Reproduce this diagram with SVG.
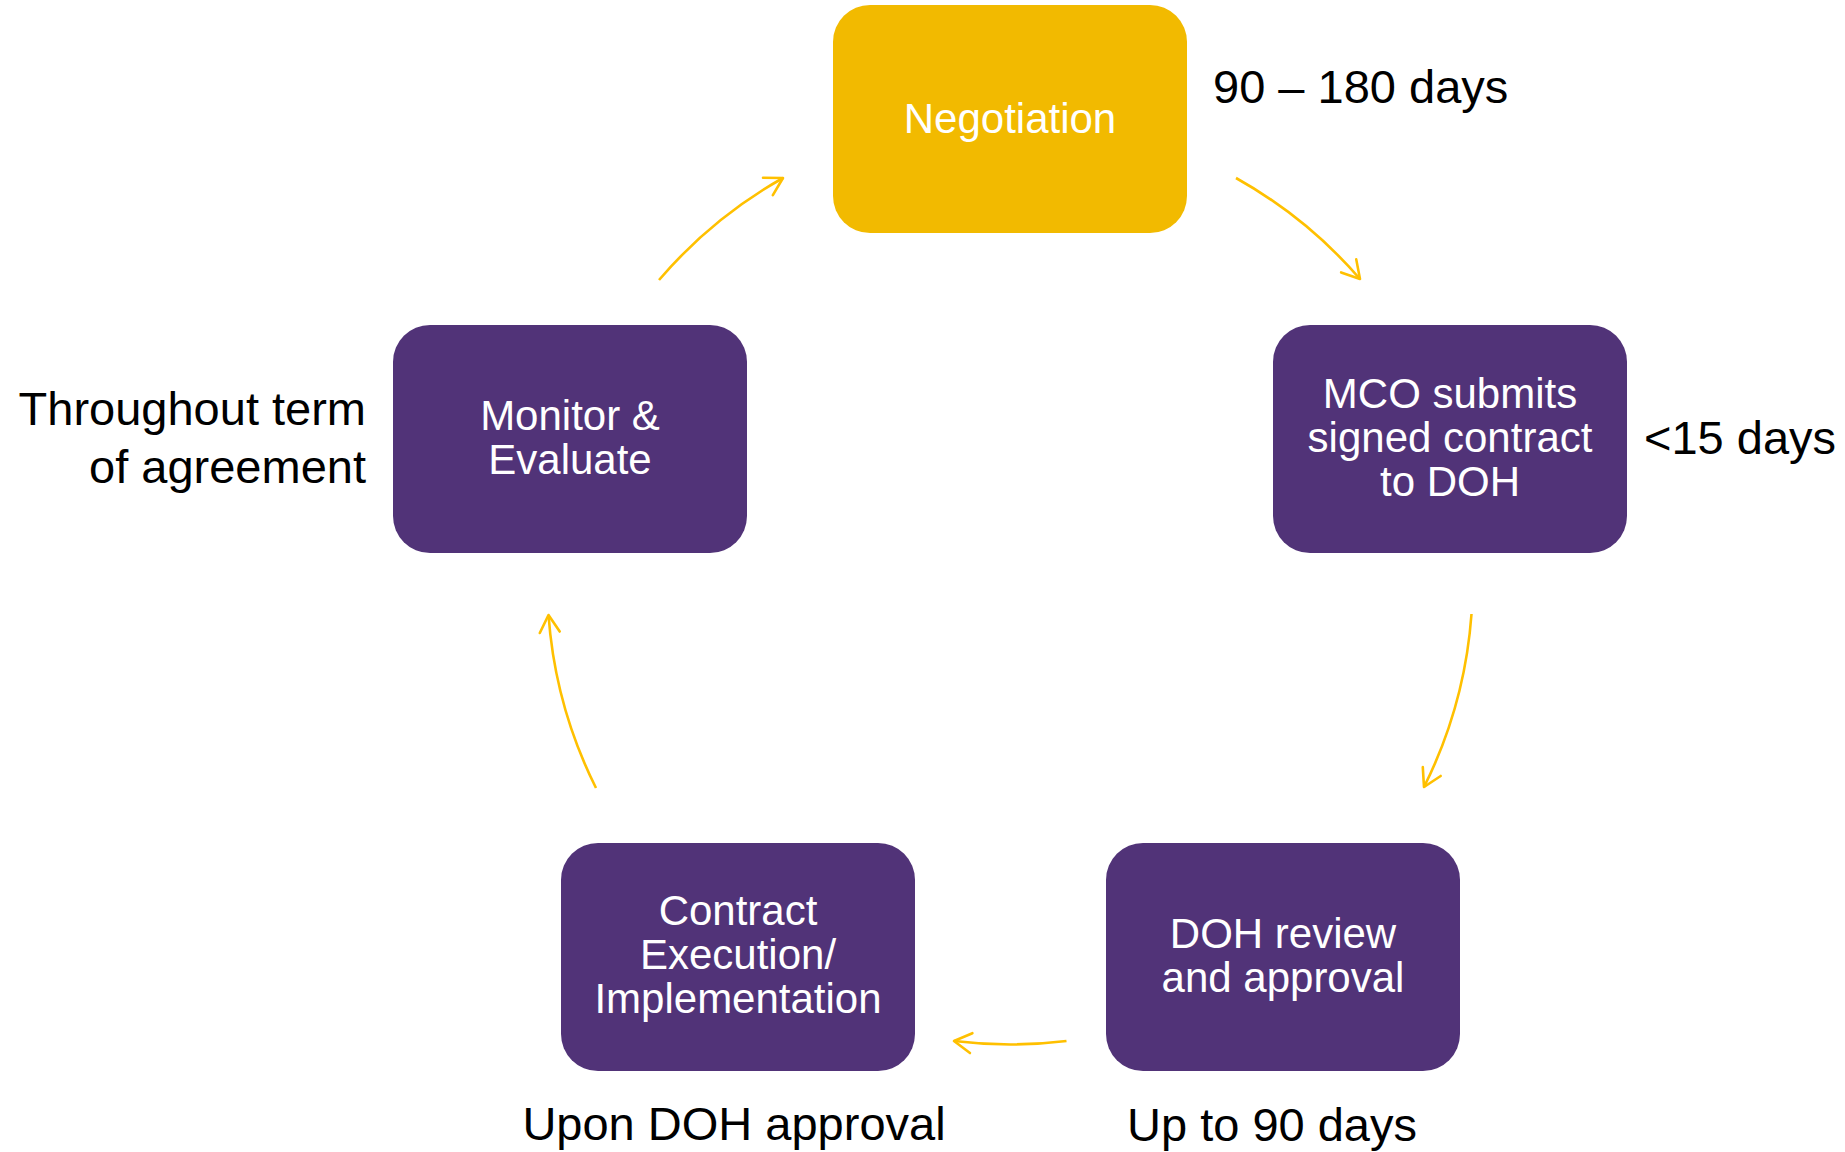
<svg xmlns="http://www.w3.org/2000/svg" width="1845" height="1152" viewBox="0 0 1845 1152">
  <defs>
    <style>
      .box-gold { fill: #F2BA00; }
      .box-purple { fill: #513378; }
      .node-text { font-family: "Liberation Sans", Arial, sans-serif; font-size: 42px; fill: #FFFFFF; text-anchor: middle; }
      .label { font-family: "Liberation Sans", Arial, sans-serif; font-size: 47px; fill: #000000; }
      .conn { fill: none; stroke: #FFC000; stroke-width: 2.6; marker-end: url(#arrow); }
    </style>
    <marker id="arrow" markerUnits="userSpaceOnUse" markerWidth="40" markerHeight="40" viewBox="-25 -20 40 40" refX="0" refY="0" orient="auto">
      <path d="M -17.3 -10 L 0 0 L -17.3 10" fill="none" stroke="#FFC000" stroke-width="2.6" stroke-linecap="round" stroke-linejoin="round"/>
    </marker>
  </defs>
  <rect width="1845" height="1152" fill="#FFFFFF"/>

  <g id="connectors">
    <path class="conn" d="M 1236 178 A 462 462 0 0 1 1360 279"/>
    <path class="conn" d="M 1471.5 614 A 462 462 0 0 1 1424 787"/>
    <path class="conn" d="M 1066.5 1041 A 462 462 0 0 1 954 1041"/>
    <path class="conn" d="M 596 788 A 462 462 0 0 1 548.5 615"/>
    <path class="conn" d="M 659 280 A 462 462 0 0 1 783 178"/>
  </g>

  <g id="node-negotiation">
    <rect class="box-gold" x="833" y="5" width="354" height="228" rx="37" ry="37"/>
    <text class="node-text" x="1010" y="133">Negotiation</text>
  </g>

  <g id="node-mco">
    <rect class="box-purple" x="1273" y="325" width="354" height="228" rx="37" ry="37"/>
    <text class="node-text" x="1450" y="408">MCO submits</text>
    <text class="node-text" x="1450" y="452">signed contract</text>
    <text class="node-text" x="1450" y="496">to DOH</text>
  </g>

  <g id="node-doh">
    <rect class="box-purple" x="1106" y="843" width="354" height="228" rx="37" ry="37"/>
    <text class="node-text" x="1283" y="948">DOH review</text>
    <text class="node-text" x="1283" y="992">and approval</text>
  </g>

  <g id="node-contract">
    <rect class="box-purple" x="561" y="843" width="354" height="228" rx="37" ry="37"/>
    <text class="node-text" x="738" y="925">Contract</text>
    <text class="node-text" x="738" y="969">Execution/</text>
    <text class="node-text" x="738" y="1013">Implementation</text>
  </g>

  <g id="node-monitor">
    <rect class="box-purple" x="393" y="325" width="354" height="228" rx="37" ry="37"/>
    <text class="node-text" x="570" y="430">Monitor &amp;</text>
    <text class="node-text" x="570" y="474">Evaluate</text>
  </g>

  <g id="labels">
    <text class="label" x="1213" y="103">90 – 180 days</text>
    <text class="label" x="1644" y="454">&lt;15 days</text>
    <text class="label" x="1127" y="1141">Up to 90 days</text>
    <text class="label" x="734" y="1140" text-anchor="middle">Upon DOH approval</text>
    <text class="label" x="366" y="425" text-anchor="end">Throughout term</text>
    <text class="label" x="366" y="483" text-anchor="end">of agreement</text>
  </g>
</svg>
